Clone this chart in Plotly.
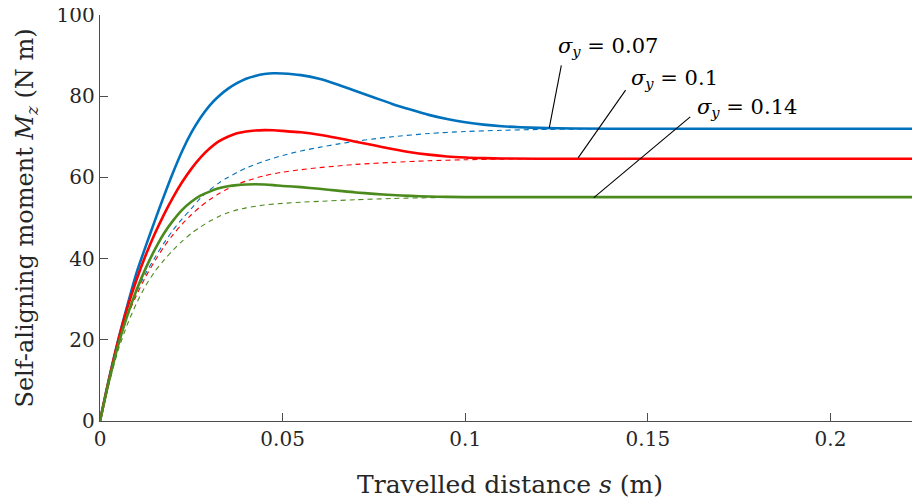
import plotly.graph_objects as go

# ---- data (travelled distance s in m, Mz in N m) ----
x_blue = [0, 0.0025, 0.005, 0.0075, 0.01, 0.0125, 0.015, 0.0175, 0.02, 0.0225, 0.025, 0.0275, 0.03,
          0.0325, 0.035, 0.0375, 0.04, 0.0425, 0.045, 0.0475, 0.05, 0.055, 0.06, 0.065, 0.07, 0.075,
          0.08, 0.085, 0.09, 0.095, 0.10, 0.105, 0.11, 0.115, 0.12, 0.13, 0.14, 0.225]
y_blue = [0, 10.5, 20.0, 28.5, 36.5, 43.0, 49.3, 55.4, 61.2, 66.5, 71.0, 74.7, 77.7,
          80.0, 81.8, 83.2, 84.3, 85.0, 85.45, 85.65, 85.6, 85.2, 84.3, 82.9, 81.3, 79.7,
          78.1, 76.7, 75.4, 74.4, 73.6, 73.0, 72.6, 72.35, 72.2, 72.05, 72.0, 72.0]

x_red = [0, 0.0025, 0.005, 0.0075, 0.01, 0.0125, 0.015, 0.0175, 0.02, 0.0225, 0.025, 0.0275, 0.03,
         0.0325, 0.035, 0.0375, 0.04, 0.0425, 0.045, 0.0475, 0.05, 0.055, 0.06, 0.065, 0.07, 0.075,
         0.08, 0.085, 0.09, 0.095, 0.10, 0.105, 0.11, 0.12, 0.225]
y_red = [0, 10.4, 19.8, 27.9, 34.8, 40.8, 46.1, 50.85, 55.1, 58.85, 62.1, 64.85, 67.1,
         68.85, 70.0, 70.85, 71.3, 71.55, 71.65, 71.6, 71.45, 71.1, 70.5, 69.7, 68.8, 67.9,
         67.0, 66.2, 65.6, 65.15, 64.9, 64.75, 64.65, 64.6, 64.6]

x_green = [0, 0.0025, 0.005, 0.0075, 0.01, 0.0125, 0.015, 0.0175, 0.02, 0.0225, 0.025, 0.0275, 0.03,
           0.0325, 0.035, 0.0375, 0.04, 0.0425, 0.045, 0.0475, 0.05, 0.055, 0.06, 0.065, 0.07, 0.075,
           0.08, 0.085, 0.09, 0.095, 0.10, 0.225]
y_green = [0, 10.0, 18.75, 26.0, 32.25, 37.6, 42.2, 46.2, 49.35, 52.0, 54.0, 55.5, 56.5,
           57.3, 57.8, 58.1, 58.25, 58.3, 58.25, 58.1, 57.9, 57.6, 57.2, 56.75, 56.3, 55.95,
           55.65, 55.45, 55.3, 55.2, 55.15, 55.15]

x_blue_d = [0, 0.0025, 0.005, 0.0075, 0.01, 0.0125, 0.015, 0.0175, 0.02, 0.0225, 0.025, 0.0275, 0.03,
            0.0325, 0.035, 0.0375, 0.04, 0.045, 0.05, 0.055, 0.06, 0.065, 0.07, 0.075, 0.08, 0.09,
            0.10, 0.11, 0.12, 0.14, 0.16, 0.225]
y_blue_d = [0, 9.8, 18.8, 26.0, 31.8, 36.3, 40.2, 43.8, 47.0, 49.8, 52.3, 54.9, 56.9,
            58.6, 60.0, 61.2, 62.3, 64.0, 65.4, 66.5, 67.4, 68.2, 68.9, 69.5, 70.0, 70.8,
            71.3, 71.6, 71.8, 71.95, 72.0, 72.0]

x_red_d = [0, 0.0025, 0.005, 0.0075, 0.01, 0.0125, 0.015, 0.0175, 0.02, 0.0225, 0.025, 0.0275, 0.03,
           0.0325, 0.035, 0.0375, 0.04, 0.045, 0.05, 0.055, 0.06, 0.065, 0.07, 0.08, 0.09, 0.10,
           0.11, 0.13, 0.225]
y_red_d = [0, 9.8, 18.8, 25.8, 31.0, 35.5, 39.4, 42.9, 45.9, 48.5, 50.8, 52.8, 54.5,
           55.95, 57.2, 58.25, 59.1, 60.4, 61.3, 61.9, 62.4, 62.8, 63.2, 63.7, 64.1, 64.35,
           64.5, 64.6, 64.6]

x_green_d = [0, 0.0025, 0.005, 0.0075, 0.01, 0.0125, 0.015, 0.0175, 0.02, 0.0225, 0.025, 0.0275, 0.03,
             0.0325, 0.035, 0.0375, 0.04, 0.045, 0.05, 0.055, 0.06, 0.07, 0.08, 0.09, 0.10, 0.12, 0.225]
y_green_d = [0, 9.3, 17.5, 23.8, 29.0, 33.3, 36.8, 39.6, 42.1, 44.3, 46.2, 47.8, 49.2,
             50.35, 51.3, 52.0, 52.5, 53.2, 53.6, 53.9, 54.1, 54.5, 54.8, 55.0, 55.1, 55.15, 55.15]

x_ticks = [0, 0.05, 0.1, 0.15, 0.2]
x_ticklabels = ["0", "0.05", "0.1", "0.15", "0.2"]
y_ticks = [0, 20, 40, 60, 80, 100]
y_ticklabels = ["0", "20", "40", "60", "80", "100"]

sigma_labels = ["0.07", "0.1", "0.14"]
label_left_x = [0.1248, 0.1447, 0.1630]
label_mid_y = [92.2, 84.3, 77.2]
leader_x0 = [0.1263, 0.1439, 0.1616]
leader_y0 = [87.6, 81.5, 74.9]
leader_x1 = [0.1230, 0.1309, 0.1352]
leader_y1 = [72.2, 64.8, 55.0]

BLUE = "#0072BD"
RED = "#FF0000"
GREEN = "#4B8B1D"
FONT = "DejaVu Serif"
TXT = "#262626"

fig = go.Figure()

for xs, ys, c in [(x_blue_d, y_blue_d, BLUE), (x_red_d, y_red_d, RED), (x_green_d, y_green_d, GREEN)]:
    fig.add_trace(go.Scatter(x=xs, y=ys, mode="lines",
                             line=dict(color=c, width=1.1, dash="5px,4px", shape="spline", smoothing=0.8),
                             showlegend=False, hoverinfo="skip"))

for xs, ys, c in [(x_blue, y_blue, BLUE), (x_red, y_red, RED), (x_green, y_green, GREEN)]:
    fig.add_trace(go.Scatter(x=xs, y=ys, mode="lines",
                             line=dict(color=c, width=2.6, shape="spline", smoothing=0.8),
                             showlegend=False, hoverinfo="skip"))

for i, lab in enumerate(sigma_labels):
    fig.add_shape(type="line", x0=leader_x0[i], y0=leader_y0[i], x1=leader_x1[i], y1=leader_y1[i],
                  xref="x", yref="y", line=dict(color="black", width=1.1))
    fig.add_annotation(x=label_left_x[i], y=label_mid_y[i], xref="x", yref="y",
                       xanchor="left", yanchor="middle",
                       text=f"<i>σ</i><sub><i>y</i></sub> = {lab}", showarrow=False,
                       font=dict(family=FONT, size=21, color="black"))

axis_common = dict(showline=True, linecolor="#4d4d4d", linewidth=1.4, ticks="inside", ticklen=8,
                   tickwidth=1.2, tickcolor="#4d4d4d", showgrid=False, zeroline=False, mirror=False,
                   automargin=False, ticklabeloverflow="allow",
                   tickfont=dict(family=FONT, size=20, color=TXT))

fig.update_xaxes(range=[0, 0.2245], tickvals=x_ticks, ticktext=x_ticklabels,
                 title=dict(text="Travelled distance <i>s</i> (m)",
                            font=dict(family=FONT, size=25, color=TXT), standoff=26),
                 **axis_common)
fig.update_yaxes(range=[0, 100], tickvals=y_ticks, ticktext=y_ticklabels,
                 title=dict(text="Self-aligning moment <i>M</i><sub><i>z</i></sub> (N m)",
                            font=dict(family=FONT, size=24, color=TXT), standoff=16),
                 **axis_common)

# the page body adds an 8 px margin, so the figure is sized to keep the plot area where the reference has it
fig.update_layout(width=912, height=491, margin=dict(l=92, r=0, t=7, b=78),
                  plot_bgcolor="white", paper_bgcolor="white")

fig.write_html("out.html")
